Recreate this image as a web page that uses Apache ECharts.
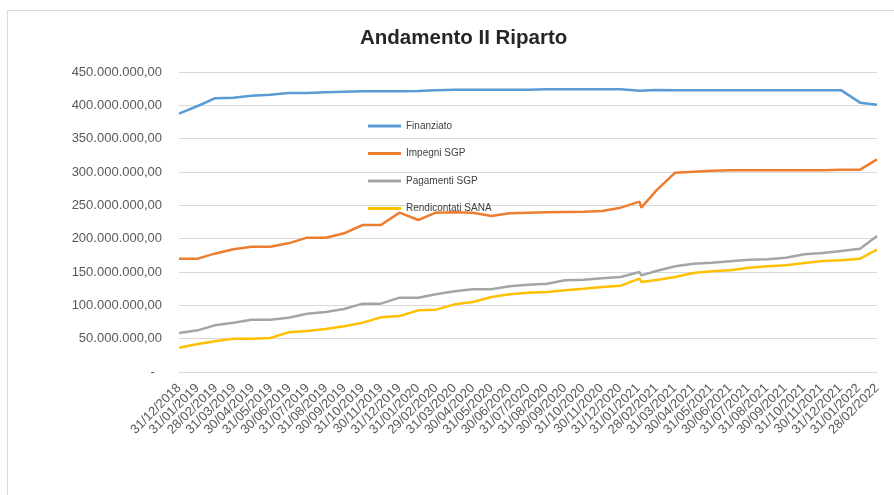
<!DOCTYPE html>
<html>
<head>
<meta charset="utf-8">
<script src="https://cdn.jsdelivr.net/npm/echarts@6/dist/echarts.min.js"></script>
<style>html,body{margin:0;padding:0;background:#fff;}#c{width:894px;height:495px;}</style>
</head>
<body>
<div id="c"></div>
<script>
// Tick labels (month ends)
var tickLabels = ["31/12/2018","31/01/2019","28/02/2019","31/03/2019","30/04/2019","31/05/2019","30/06/2019","31/07/2019","31/08/2019","30/09/2019","31/10/2019","30/11/2019","31/12/2019","31/01/2020","29/02/2020","31/03/2020","30/04/2020","31/05/2020","30/06/2020","31/07/2020","31/08/2020","30/09/2020","31/10/2020","30/11/2020","31/12/2020","31/01/2021","28/02/2021","31/03/2021","30/04/2021","31/05/2021","30/06/2021","31/07/2021","31/08/2021","30/09/2021","31/10/2021","30/11/2021","31/12/2021","31/01/2022","28/02/2022"];
// Observation dates (one extra record early Feb 2021)
var pointDates = ["31/12/2018","31/01/2019","28/02/2019","31/03/2019","30/04/2019","31/05/2019","30/06/2019","31/07/2019","31/08/2019","30/09/2019","31/10/2019","30/11/2019","31/12/2019","31/01/2020","29/02/2020","31/03/2020","30/04/2020","31/05/2020","30/06/2020","31/07/2020","31/08/2020","30/09/2020","31/10/2020","30/11/2020","31/12/2020","31/01/2021","03/02/2021","28/02/2021","31/03/2021","30/04/2021","31/05/2021","30/06/2021","31/07/2021","31/08/2021","30/09/2021","31/10/2021","30/11/2021","31/12/2021","31/01/2022","28/02/2022"];
var seriesNames = ["Finanziato","Impegni SGP","Pagamenti SGP","Rendicontati SANA"];
var finanziato = [387.5e6,399e6,410.5e6,411.5e6,414.5e6,416e6,418.5e6,418.5e6,419.5e6,420.5e6,421e6,421e6,421e6,421.5e6,422.5e6,423.5e6,423.5e6,423.5e6,423.5e6,423.5e6,424e6,424e6,424e6,424e6,424e6,422e6,424e6,423e6,422.5e6,422.5e6,422.5e6,422.5e6,422.5e6,422.5e6,422.5e6,422.5e6,422.5e6,422.5e6,404e6,401e6];
var impegni = [170e6,170e6,177.5e6,184e6,188e6,188e6,193e6,201.5e6,201.5e6,208e6,220.5e6,220.5e6,239e6,228e6,239e6,239.5e6,239e6,234e6,238e6,239e6,239.5e6,240e6,240.5e6,241.5e6,246.5e6,255.5e6,246.5e6,272.5e6,299e6,300.5e6,302e6,302.5e6,302.5e6,302.5e6,302.5e6,302.5e6,302.5e6,303.5e6,303.5e6,319e6];
var pagamenti = [58.5e6,62.5e6,70e6,74e6,78.5e6,78.5e6,81.5e6,87.5e6,90e6,94.5e6,102.5e6,102.5e6,111.5e6,111.5e6,116.5e6,121e6,124e6,124e6,128.5e6,131e6,132.5e6,137.5e6,138.5e6,140.5e6,142.5e6,150e6,145e6,151.5e6,158.5e6,162.5e6,164e6,166e6,168.5e6,169e6,171.5e6,176.5e6,178.5e6,181.5e6,185e6,204e6];
var rendicontati = [36.5e6,42e6,46e6,50e6,50e6,51e6,59.5e6,61.5e6,64.5e6,68.5e6,74e6,82e6,84e6,92.5e6,93.5e6,101.5e6,105e6,112.5e6,116.5e6,119e6,120e6,122.5e6,125e6,127.5e6,129.5e6,140e6,135e6,138e6,142.5e6,148.5e6,151e6,152.5e6,156.5e6,158.5e6,160e6,163.5e6,166.5e6,167.5e6,170e6,183.5e6];

function toTs(s){var p=s.split('/');return Date.UTC(+p[2],+p[1]-1,+p[0]);}
var t0 = toTs(tickLabels[0]);
function toDay(s){return Math.round((toTs(s)-t0)/86400000);}
var tickDays = tickLabels.map(toDay);
function fmtNum(v){if(v===0)return '-  ';return Math.round(v).toString().replace(/\B(?=(\d{3})+(?!\d))/g,'.')+',00';}
function pairs(vals){return pointDates.map(function(d,i){return [toDay(d),vals[i]];});}

var colors = ['#5b9bd5','#ed7d31','#a5a5a5','#ffc000'];
var allVals = [finanziato,impegni,pagamenti,rendicontati];
var font = 'Liberation Sans, Arial, sans-serif';

var chart = echarts.init(document.getElementById('c'));
chart.setOption({
  animation: false,
  backgroundColor: '#ffffff',
  color: colors,
  title: {
    text: 'Andamento II Riparto',
    left: 355, top: 23,
    textStyle: {fontFamily: font, fontSize: 20.5, fontWeight: 'bold', color: '#262626'}
  },
  graphic: [{
    type: 'rect', shape: {x: 7.5, y: 10.5, width: 1000, height: 1000},
    style: {fill: 'none', stroke: '#d9d9d9', lineWidth: 1}, silent: true, z: -1
  }],
  legend: {
    orient: 'vertical', left: 363, top: 116,
    icon: 'rect', itemWidth: 33, itemHeight: 3, itemGap: 17.5,
    data: seriesNames,
    textStyle: {fontFamily: font, fontSize: 10, color: '#404040'}
  },
  grid: {left: 179, right: 17, top: 72, bottom: 123},
  xAxis: [{
    type: 'category', boundaryGap: false, data: tickLabels,
    axisLine: {show: true, onZero: false, lineStyle: {color: '#d9d9d9'}},
    axisTick: {show: false},
    splitLine: {show: false},
    axisLabel: {
      interval: 0, rotate: 45, margin: 14,
      fontFamily: font, fontSize: 13, color: '#595959'
    }
  }, {
    type: 'value', show: false,
    min: tickDays[0], max: tickDays[tickDays.length-1],
    splitLine: {show: false}
  }],
  yAxis: {
    type: 'value', min: 0, max: 450e6, interval: 50e6,
    axisLine: {show: false}, axisTick: {show: false},
    splitLine: {lineStyle: {color: '#d9d9d9', width: 1}},
    axisLabel: {
      formatter: fmtNum, margin: 17,
      fontFamily: font, fontSize: 13, color: '#595959'
    }
  },
  series: seriesNames.map(function(n,i){
    return {
      name: n, type: 'line', xAxisIndex: 1, data: pairs(allVals[i]),
      symbol: 'none', lineStyle: {width: 2.5, color: colors[i]},
      itemStyle: {color: colors[i]}
    };
  })
});
</script>
</body>
</html>
